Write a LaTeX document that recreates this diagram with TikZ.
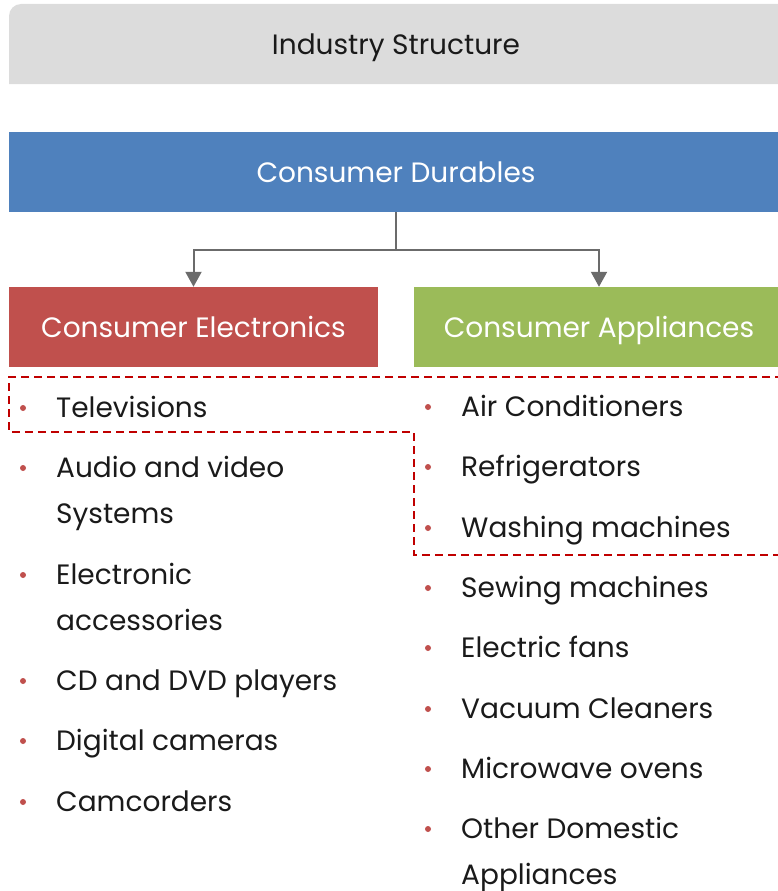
\documentclass[tikz,border=0pt]{standalone}
\usepackage{fontspec}
\setmainfont{Poppins}
\usetikzlibrary{arrows.meta,positioning}

\definecolor{hdrgray}{HTML}{DCDCDC}
\definecolor{durblue}{HTML}{4F81BD}
\definecolor{elecred}{HTML}{C0504D}
\definecolor{applgreen}{HTML}{9BBB59}
\definecolor{linkgray}{HTML}{6B6B6B}
\definecolor{dashred}{HTML}{C00000}
\definecolor{inktext}{HTML}{1A1A1A}

\newcommand{\itemfont}{\fontsize{28}{46}\selectfont}

\tikzset{
  bar/.style={fill=#1, text=white, minimum height=80pt, inner sep=0pt, font=\itemfont,
    text height=24pt, text depth=3pt},
  link/.style={draw=linkgray, line width=2pt},
  item/.style={anchor=base west, align=left, inner sep=0pt, text=inktext, font=\itemfont},
  dot/.style={fill=elecred},
}

\begin{document}
\begin{tikzpicture}[x=1pt,y=-1pt]
\useasboundingbox (0,0) rectangle (777,891);

% title bar
\fill [hdrgray] (9,84) [rounded corners=12pt] -- (9,4) [sharp corners] -- (783,4) -- (783,84) -- cycle;
\node [text=inktext, font=\itemfont, inner sep=0pt, text height=21pt, text depth=3pt] (title) at (396,46) {Industry Structure};

% the three category bars
\node [bar=durblue, minimum width=774pt] (dur) at (396,172) {Consumer Durables};
\node [bar=elecred, minimum width=369pt] (elec) at (193.5,327) {Consumer Electronics};
\node [bar=applgreen, minimum width=370pt] (appl) at (599,327) {Consumer Appliances};

\coordinate (split) at (396,250);
\draw [link] (dur.south -| split) -- (split);
\draw [link, -{Triangle[length=15pt,width=16pt]}] (split) -| (elec.north);
\draw [link, -{Triangle[length=15pt,width=16pt]}] (split) -| (appl.north);

% highlighted group
\draw [dashred, line width=2pt, dash pattern=on 8pt off 5pt]
  (783,377) -- (9,377) -- (9,432) -- (414,432) -- (414,555) -- (783,555);

% electronics list (\y = first baseline, \z = last baseline)
\foreach \y/\z/\txt [count=\i] in {417/417/Televisions, 477/523/{Audio and video\\Systems},
    584/630/{Electronic\\accessories}, 690/690/CD and DVD players, 750/750/Digital cameras,
    811/811/Camcorders} {
  \fill [dot] (23,\y-9) circle (3pt);
  \node [item] (e\i) at (56,\z) {\txt};
}

% appliances list
\foreach \y/\z/\txt [count=\i] in {416/416/Air Conditioners, 476/476/Refrigerators,
    537/537/Washing machines, 597/597/Sewing machines, 657/657/Electric fans,
    718/718/Vacuum Cleaners, 778/778/Microwave ovens, 838/884/{Other Domestic\\Appliances}} {
  \fill [dot] (428,\y-9) circle (3pt);
  \node [item] (a\i) at (461,\z) {\txt};
}
\end{tikzpicture}
\end{document}
